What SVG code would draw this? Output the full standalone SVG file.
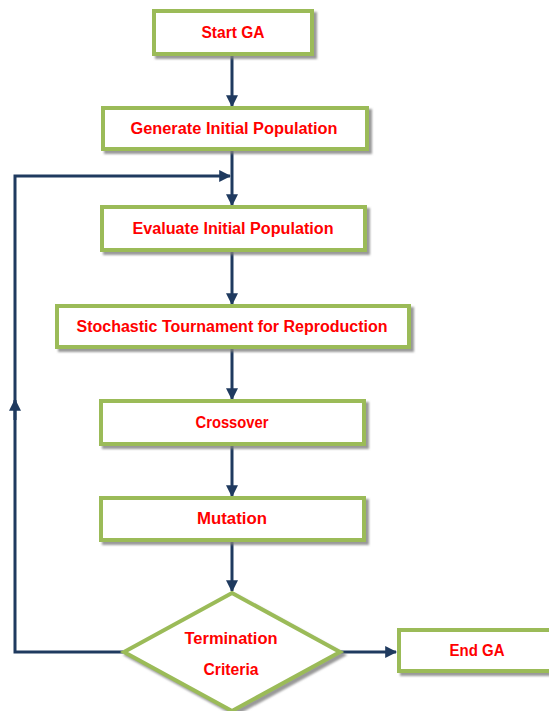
<svg xmlns="http://www.w3.org/2000/svg" width="549" height="711" viewBox="0 0 549 711">
<defs>
<style>
.box{fill:#fff;stroke:#9BBB59;stroke-width:4;filter:url(#sh)}
.lbl{font-family:"Liberation Sans",Arial,sans-serif;font-weight:bold;font-size:16px;fill:#FF0000;text-anchor:middle}
.con{fill:none;stroke:#1F3A5F;stroke-width:3}
</style>
<filter id="sh" x="-10%" y="-20%" width="130%" height="160%">
<feDropShadow dx="3" dy="3" stdDeviation="1.2" flood-color="#808080" flood-opacity="0.8"/>
</filter>
<marker id="ah" viewBox="0 0 10 10" refX="9" refY="5" markerWidth="4" markerHeight="4" orient="auto" markerUnits="strokeWidth">
<path d="M0,0 L10,5 L0,10 z" fill="#1F3A5F"/>
</marker>
</defs>
<rect width="549" height="711" fill="#fff"/>
<g id="connectors">
<path class="con" d="M232,55 V106" marker-end="url(#ah)"/>
<path class="con" d="M232,150 V205" marker-end="url(#ah)"/>
<path class="con" d="M232,251 V304" marker-end="url(#ah)"/>
<path class="con" d="M232,348 V399" marker-end="url(#ah)"/>
<path class="con" d="M232,445 V496" marker-end="url(#ah)"/>
<path class="con" d="M232,541 V591" marker-end="url(#ah)"/>
<path class="con" d="M341,652 H396" marker-end="url(#ah)"/>
<path class="con" d="M123,652 H15 V176 H230" marker-end="url(#ah)"/>
<path class="con" d="M15,420 V400" marker-end="url(#ah)"/>
</g>
<g id="start">
<rect class="box" x="154" y="11" width="158" height="43"/>
<text class="lbl" x="233" y="38" textLength="63" lengthAdjust="spacingAndGlyphs">Start GA</text>
</g>
<g id="generate">
<rect class="box" x="103" y="108" width="264" height="41"/>
<text class="lbl" x="234" y="134" textLength="207" lengthAdjust="spacingAndGlyphs">Generate Initial Population</text>
</g>
<g id="evaluate">
<rect class="box" x="102" y="207" width="263" height="43"/>
<text class="lbl" x="233" y="234" textLength="201" lengthAdjust="spacingAndGlyphs">Evaluate Initial Population</text>
</g>
<g id="stochastic">
<rect class="box" x="57" y="306" width="352" height="41"/>
<text class="lbl" x="232" y="332" textLength="311" lengthAdjust="spacingAndGlyphs">Stochastic Tournament for Reproduction</text>
</g>
<g id="crossover">
<rect class="box" x="101" y="401" width="263" height="43"/>
<text class="lbl" x="232" y="428" textLength="73" lengthAdjust="spacingAndGlyphs">Crossover</text>
</g>
<g id="mutation">
<rect class="box" x="101" y="498" width="263" height="42"/>
<text class="lbl" x="232" y="524" textLength="70" lengthAdjust="spacingAndGlyphs">Mutation</text>
</g>
<g id="termination">
<polygon class="box" points="232,593 340,652 232,711 124,652"/>
<text class="lbl" x="231" y="644" textLength="93" lengthAdjust="spacingAndGlyphs">Termination</text>
<text class="lbl" x="231" y="675" textLength="55" lengthAdjust="spacingAndGlyphs">Criteria</text>
</g>
<g id="end">
<rect class="box" x="399" y="630" width="160" height="41"/>
<text class="lbl" x="477" y="656" textLength="55" lengthAdjust="spacingAndGlyphs">End GA</text>
</g>
</svg>
